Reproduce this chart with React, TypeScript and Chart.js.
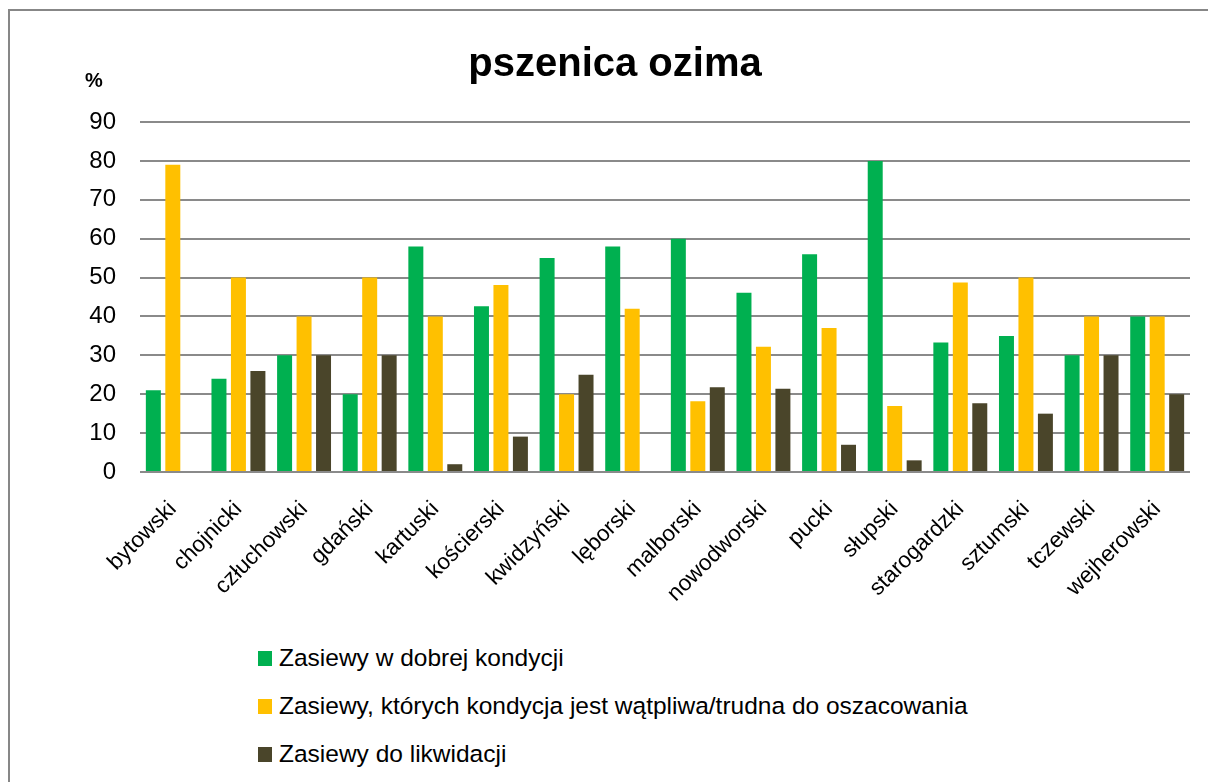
import React, { useEffect, useRef } from "react";
import { Chart, registerables } from "chart.js";

Chart.register(...registerables);

const chartTitle = "pszenica ozima";
const yAxisUnit = "%";

const categories = [
  "bytowski",
  "chojnicki",
  "człuchowski",
  "gdański",
  "kartuski",
  "kościerski",
  "kwidzyński",
  "lęborski",
  "malborski",
  "nowodworski",
  "pucki",
  "słupski",
  "starogardzki",
  "sztumski",
  "tczewski",
  "wejherowski",
];

const seriesLabels = [
  "Zasiewy w dobrej kondycji",
  "Zasiewy, których kondycja jest wątpliwa/trudna do oszacowania",
  "Zasiewy do likwidacji",
];

const goodCondition = [21, 24, 30, 20, 58, 42.6, 55, 58, 60, 46.1, 56, 80, 33.3, 35, 30, 40];
const doubtfulCondition = [79, 50, 40, 50, 40, 48.1, 20, 42, 18.2, 32.2, 37, 17, 48.7, 50, 40, 40];
const toLiquidate = [0, 26, 30, 30, 2, 9.1, 25, 0, 21.8, 21.4, 7, 3, 17.7, 15, 30, 20];

const yMin = 0;
const yMax = 90;
const yStep = 10;

const seriesColors = ["#00B050", "#FFC000", "#4A452A"];

const FONT = "'Liberation Sans', Arial, sans-serif";

export default function App() {
  const canvasRef = useRef<HTMLCanvasElement | null>(null);

  useEffect(() => {
    document.body.style.overflow = "hidden";
    const canvas = canvasRef.current;
    if (!canvas) return;
    const seriesValues = [goodCondition, doubtfulCondition, toLiquidate];
    const chart = new Chart(canvas, {
      type: "bar",
      data: {
        labels: categories,
        datasets: seriesLabels.map((label, i) => ({
          label,
          data: seriesValues[i],
          backgroundColor: seriesColors[i],
          borderWidth: 0,
          categoryPercentage: 0.89,
          barPercentage: 0.77,
        })),
      },
      options: {
        animation: false,
        responsive: false,
        maintainAspectRatio: false,
        devicePixelRatio: 1,
        layout: { padding: { top: 122, right: 18, left: 0, bottom: 0 } },
        plugins: {
          legend: { display: false },
          title: { display: false },
          tooltip: { enabled: false },
        },
        scales: {
          x: {
            grid: { display: false },
            border: { display: false },
            ticks: {
              autoSkip: false,
              maxRotation: 45,
              minRotation: 45,
              color: "#000",
              padding: 16,
              font: { family: FONT, size: 22.5 },
            },
            afterFit: (s: any) => {
              s.height = 148;
            },
          },
          y: {
            min: yMin,
            max: yMax,
            ticks: {
              stepSize: yStep,
              color: "#000",
              padding: 24,
              font: { family: FONT, size: 24 },
            },
            grid: { color: "#8a8a8a", lineWidth: 2, drawTicks: false },
            border: { display: false },
            afterFit: (s: any) => {
              s.width = 140;
            },
          },
        },
      },
    });
    return () => chart.destroy();
  }, []);

  return (
    <div
      style={{
        position: "fixed",
        left: 0,
        top: 0,
        width: 1400,
        height: 900,
        background: "#fff",
        overflow: "hidden",
      }}
    >
      <div
        style={{
          position: "absolute",
          left: 8,
          top: 9,
          width: 1380,
          height: 880,
          borderLeft: "2px solid #878787",
          borderTop: "2px solid #878787",
        }}
      />
      <canvas
        ref={canvasRef}
        width={1208}
        height={620}
        style={{ position: "absolute", left: 0, top: 0, width: 1208, height: 620 }}
      />
      <div
        style={{
          position: "absolute",
          left: 0,
          top: 42,
          width: 1230,
          textAlign: "center",
          font: `bold 40px ${FONT}`,
          lineHeight: "40px",
          color: "#000",
        }}
      >
        {chartTitle}
      </div>
      <div
        style={{
          position: "absolute",
          left: 85,
          top: 69,
          font: `bold 20px ${FONT}`,
          lineHeight: "22px",
          color: "#000",
        }}
      >
        {yAxisUnit}
      </div>
      {seriesLabels.map((label, i) => (
        <div
          key={label}
          style={{
            position: "absolute",
            left: 258,
            top: 642 + i * 48,
            height: 32,
            display: "flex",
            alignItems: "center",
            color: "#000",
            whiteSpace: "nowrap",
          }}
        >
          <span
            style={{
              display: "inline-block",
              width: 14,
              height: 15,
              background: seriesColors[i],
              marginRight: 7,
            }}
          />
          <span
            style={{
              display: "inline-block",
              font: `24.5px ${FONT}`,
              lineHeight: "32px",
            }}
          >
            {label}
          </span>
        </div>
      ))}
    </div>
  );
}
